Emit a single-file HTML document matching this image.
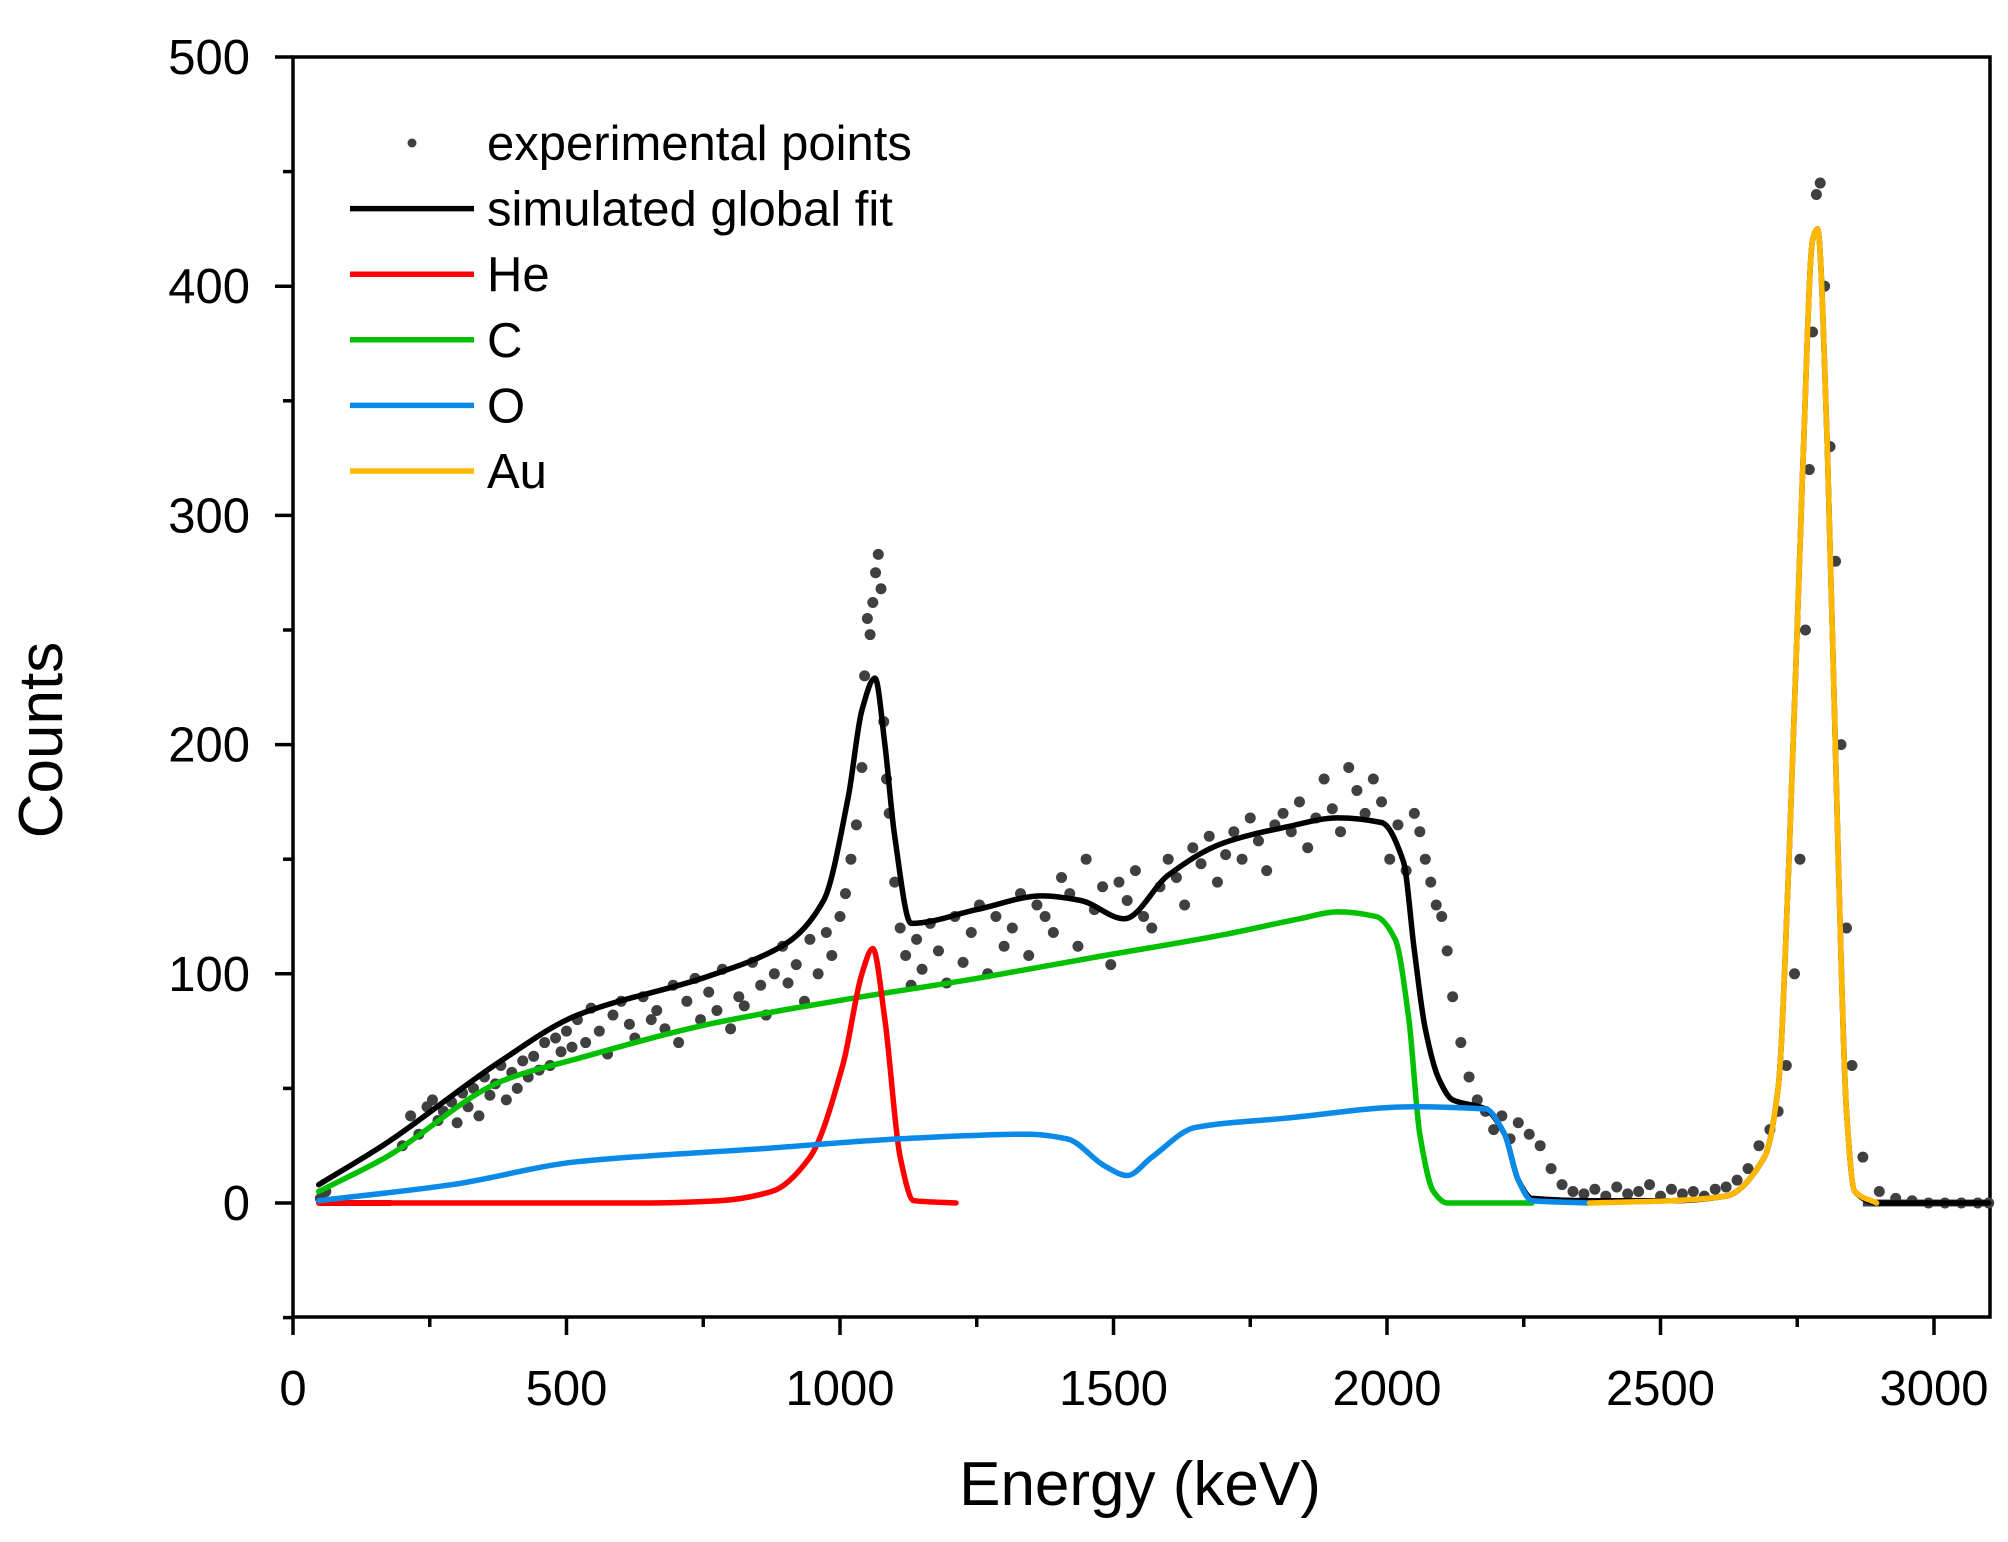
<!DOCTYPE html>
<html><head><meta charset="utf-8"><style>
html,body{margin:0;padding:0;background:#fff;}
svg{display:block;font-family:"Liberation Sans",Arial,sans-serif;}
</style></head><body>
<svg id="chart" width="2008" height="1542" viewBox="0 0 2008 1542" xmlns="http://www.w3.org/2000/svg">
<rect width="2008" height="1542" fill="#fff"/>
<g id="axes"></g>
<g id="series"></g>
<g id="legend"></g>
</svg>
<script>
const xTicks=[0,500,1000,1500,2000,2500,3000];
const yTicks=[0,100,200,300,400,500];
const fitE=[47,170,380,520,760,900,970,1015,1040,1064,1082,1100,1130,1250,1370,1440,1520,1600,1700,1815,1910,1990,2030,2050,2070,2095,2120,2180,2215,2240,2265,2370,2520,2620,2690,2715,2735,2760,2778,2787,2805,2825,2840,2855,2895,3100];
const fitC=[8,26,62,82,99,113,132,177,215,229,200,160,122,128,134,132,124,143,157,164,168,166,149,110,76,54,45,41,30,10,2,1,1,3,20,50,150,320,420,425,330,150,40,5,0,0];
const heE=[47,640,780,875,945,1005,1040,1060,1082,1110,1135,1212];
const heC=[0,0,1,5,20,60,100,111,80,20,1,0];
const cE=[47,170,380,520,760,990,1250,1460,1700,1840,1910,1980,2015,2040,2060,2085,2110,2265];
const cC=[5,20,53,63,78,88,98,107,117,124,127,125,115,80,30,5,0,0];
const oE=[47,290,520,875,1110,1345,1415,1485,1525,1570,1650,1815,2050,2180,2215,2240,2265,2370];
const oC=[1,8,18,24,28,30,28,16,12,20,33,37,42,41,30,10,1,0];
const auE=[2370,2520,2620,2690,2715,2735,2760,2778,2787,2805,2825,2840,2855,2895];
const auC=[0,1,3,20,50,150,320,420,425,330,150,40,5,0];
const ptE=[50,60,200,215,230,245,255,265,275,290,300,310,320,330,340,350,360,370,380,390,400,410,420,430,440,450,460,470,480,490,500,510,520,535,545,560,575,585,600,615,625,640,655,665,680,695,705,720,735,745,760,775,785,800,815,825,840,855,865,880,895,905,920,935,945,960,975,985,1000,1010,1020,1030,1040,1045,1050,1055,1060,1065,1070,1075,1080,1085,1090,1100,1110,1120,1130,1140,1150,1165,1180,1195,1210,1225,1240,1255,1270,1285,1300,1315,1330,1345,1360,1375,1390,1405,1420,1435,1450,1465,1480,1495,1510,1525,1540,1555,1570,1585,1600,1615,1630,1645,1660,1675,1690,1705,1720,1735,1750,1765,1780,1795,1810,1825,1840,1855,1870,1885,1900,1915,1930,1945,1960,1975,1990,2005,2020,2035,2050,2060,2070,2080,2090,2100,2110,2120,2135,2150,2165,2180,2195,2210,2225,2240,2260,2280,2300,2320,2340,2360,2380,2400,2420,2440,2460,2480,2500,2520,2540,2560,2580,2600,2620,2640,2660,2680,2700,2715,2730,2745,2755,2765,2772,2778,2785,2792,2800,2810,2820,2830,2840,2850,2870,2900,2930,2960,2990,3020,3050,3080,3100];
const ptC=[2,5,25,38,30,42,45,36,40,44,35,48,42,50,38,55,47,52,60,45,57,50,62,55,64,58,70,60,72,66,75,68,80,70,85,75,65,82,88,78,72,90,80,84,76,95,70,88,98,80,92,84,102,76,90,86,105,95,82,100,112,96,104,88,115,100,118,108,125,135,150,165,190,230,255,248,262,275,283,268,210,185,170,140,120,108,95,115,102,122,110,96,125,105,118,130,100,125,112,120,135,108,130,125,118,142,135,112,150,128,138,104,140,132,145,125,120,138,150,142,130,155,148,160,140,152,162,150,168,158,145,165,170,162,175,155,168,185,172,162,190,180,170,185,175,150,165,145,170,162,150,140,130,125,110,90,70,55,45,40,32,38,28,35,30,25,15,8,5,4,6,3,7,4,5,8,3,6,4,5,3,6,7,10,15,25,32,40,60,100,150,250,320,380,440,445,400,330,280,200,120,60,20,5,2,1,0,0,0,0,0,0,0,0];
const X0=293,X1=1990,Y0=1203,PX=0.5470,PY=2.292;
const xs=e=>X0+e*PX, ys=c=>Y0-c*PY;
const NS="http://www.w3.org/2000/svg";
function mk(tag,attrs,parent,text){const el=document.createElementNS(NS,tag);for(const k in attrs)el.setAttribute(k,attrs[k]);if(text!==undefined)el.textContent=text;parent.appendChild(el);return el;}
const axes=document.getElementById('axes'),series=document.getElementById('series'),legend=document.getElementById('legend');
const frame=mk('rect',{x:X0,y:57,width:X1-X0,height:1317-57,fill:'none',stroke:'#000','stroke-width':3.5},axes);


xTicks.forEach(t=>{const x=xs(t);
 const l=mk('line',{x1:x,x2:x,y1:1317,y2:1335,stroke:'#000','stroke-width':3.5},axes);
 
 
 const tx=mk('text',{x:x,y:1405,'font-size':49,'text-anchor':'middle'},axes,String(t));
 
 
 const m=xs(t+250);if(t+250<=3100){const ml=mk('line',{x1:m,x2:m,y1:1317,y2:1327,stroke:'#000','stroke-width':3.5},axes);
 
 }
});
yTicks.forEach(t=>{const y=ys(t);
 const l=mk('line',{x1:275,x2:X0,y1:y,y2:y,stroke:'#000','stroke-width':3.5},axes);
 
 
 const tx=mk('text',{x:250,y:y+17,'font-size':49,'text-anchor':'end'},axes,String(t));
 
 
});
[-50,50,150,250,350,450].forEach(t=>{const y=ys(t);const ml=mk('line',{x1:283,x2:X0,y1:y,y2:y,stroke:'#000','stroke-width':3.5},axes);
 
 });
const xt=mk('text',{x:1140,y:1505,'font-size':62,'text-anchor':'middle'},axes,'Energy (keV)');


const yt=mk('text',{x:0,y:0,'font-size':62,'text-anchor':'middle',transform:'translate(62,740) rotate(-90)'},axes,'Counts');


const base=mk('line',{x1:xs(47),x2:xs(180),y1:ys(0),y2:ys(0),stroke:'#8b1a1a','stroke-width':6},series);


// monotone cubic path
function smooth(E,C){const x=E.map(xs),y=C.map(ys),n=x.length;const d=[],m=new Array(n);
 for(let i=0;i<n-1;i++)d.push((y[i+1]-y[i])/(x[i+1]-x[i]));
 m[0]=d[0];m[n-1]=d[n-2];
 for(let i=1;i<n-1;i++){if(d[i-1]*d[i]<=0)m[i]=0;else m[i]=2/(1/d[i-1]+1/d[i]);}
 let p='M'+x[0].toFixed(1)+' '+y[0].toFixed(1);
 for(let i=0;i<n-1;i++){const h=(x[i+1]-x[i])/3;
  p+=' C'+(x[i]+h).toFixed(1)+' '+(y[i]+m[i]*h).toFixed(1)+' '+(x[i+1]-h).toFixed(1)+' '+(y[i+1]-m[i+1]*h).toFixed(1)+' '+x[i+1].toFixed(1)+' '+y[i+1].toFixed(1);}
 return p;}
function line(E,C,color,name){
 const p=mk('path',{d:smooth(E,C),fill:'none',stroke:color,'stroke-width':5.5,'stroke-linejoin':'round','stroke-linecap':'round'},series);
 
 }
const pts=mk('g',{},series);


ptE.forEach((e,i)=>{const c=mk('circle',{cx:xs(e),cy:ys(ptC[i]),r:5.5,fill:'#404040'},pts);
 
 });
const tailLine=mk('line',{x1:xs(2870),x2:xs(3100),y1:ys(0),y2:ys(0),stroke:'#404040','stroke-width':7},series);


line(fitE,fitC,'#000','global-fit-line');
line(cE,cC,'#00c000','carbon-line');
line(heE,heC,'#ff0000','helium-line');
line(oE,oC,'#0a8ae8','oxygen-line');
line(auE,auC,'#ffb800','gold-line');
const items=[['experimental points',null],['simulated global fit','#000'],['He','#ff0000'],['C','#00c000'],['O','#0a8ae8'],['Au','#ffb800']];
items.forEach((it,i)=>{const y=143+i*65.6;
 const g=mk('g',{},legend);
 
 
 if(it[1]) mk('line',{x1:350,x2:474,y1:y,y2:y,stroke:it[1],'stroke-width':5.5},g);
 else mk('circle',{cx:412,cy:y,r:4.5,fill:'#404040'},g);
 mk('text',{x:487,y:y+17,'font-size':49},g,it[0]);
});
</script>
</body></html>
